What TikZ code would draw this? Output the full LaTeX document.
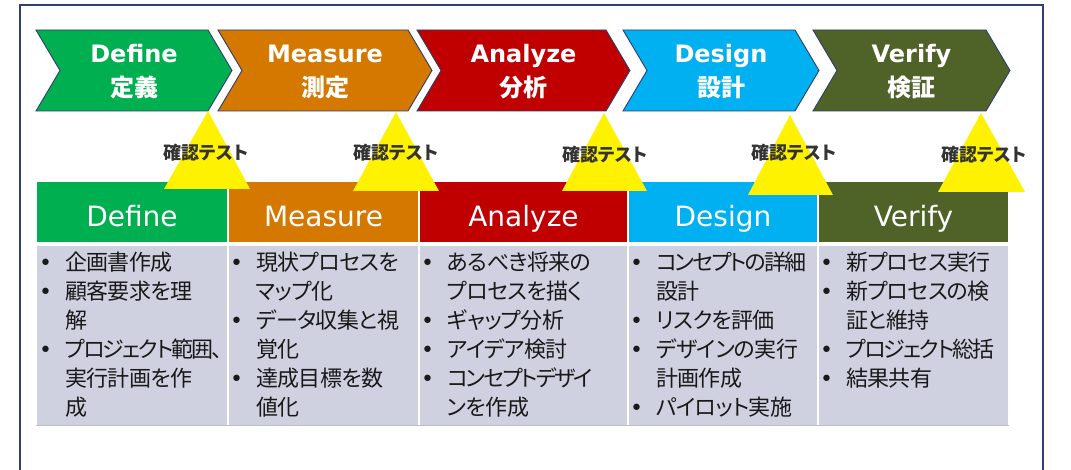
\documentclass[tikz,border=0pt]{standalone}
\usepackage{fontspec}
\setmainfont{DejaVu Sans}
\newfontfamily\jp[RawFeature=+palt]{Noto Sans CJK JP}
\newfontfamily\jpbody[RawFeature=+palt, LetterSpace=-3]{Noto Sans CJK JP}
\newfontfamily\jpnarrow[RawFeature=+palt, LetterSpace=-9]{Noto Sans CJK JP}
\definecolor{cgreen}{HTML}{00B050}
\definecolor{corange}{HTML}{D47800}
\definecolor{cred}{HTML}{C00000}
\definecolor{cblue}{HTML}{00B0F0}
\definecolor{colive}{HTML}{4F6228}
\definecolor{cbody}{HTML}{CFD1E0}
\definecolor{cframe}{HTML}{2F3F6F}
\definecolor{ctext}{HTML}{333333}
\definecolor{cline}{HTML}{2F3E6B}
\newcommand\bl{\makebox[26pt][l]{\rmfamily •}}
\newcommand\ind{\hspace*{26pt}}
\newcommand\nw[1]{{\jpnarrow #1}}
\tikzset{
  chev/.style={draw=cline, line width=0.9pt, line join=miter},
  chevtitle/.style={text=white, inner sep=0pt, anchor=base, font=\fontsize{24}{28}\selectfont\bfseries},
  chevjp/.style={text=white, inner sep=0pt, anchor=base, font=\jp\bfseries\fontsize{24}{28}\selectfont},
  headtxt/.style={text=white, inner sep=0pt, anchor=base, font=\fontsize{28}{32}\selectfont},
  testlbl/.style={text=ctext, inner sep=0pt, font=\jp\bfseries\fontsize{18}{20}\selectfont},
  tri/.style={fill=yellow},
  bodytxt/.style={text=black!90, inner sep=0pt, anchor=base west, align=left, font=\jpbody\fontsize{22}{29}\selectfont},
}
\begin{document}
\begin{tikzpicture}[x=1pt,y=-1pt]
\useasboundingbox (0,0) rectangle (1071,470);
\fill[white] (0,0) rectangle (1071,470);
% frame
\draw[cframe, line width=2pt] (20,471) -- (20,5) -- (1043,5) -- (1043,471);
% chevrons
\foreach \L/\R/\c in {36/208/cgreen, 218/408/corange, 417/606/cred, 623/795/cblue, 813/986/colive}{
  \filldraw[chev, fill=\c] (\L,30) -- (\R,30) -- (\R+24,70.5) -- (\R,111) -- (\L,111) -- (\L+24,70.5) -- cycle;
}
\node[chevtitle] (t1) at (134,63) {Define};
\node[chevjp] (j1) at (134,97) {定義};
\node[chevtitle] (t2) at (325,63) {Measure};
\node[chevjp] (j2) at (325,97) {測定};
\node[chevtitle] (t3) at (523.5,63) {Analyze};
\node[chevjp] (j3) at (523.5,97) {分析};
\node[chevtitle] (t4) at (721,63) {Design};
\node[chevjp] (j4) at (721,97) {設計};
\node[chevtitle] (t5) at (911.5,63) {Verify};
\node[chevjp] (j5) at (911.5,97) {検証};
% table
\foreach \a/\b/\c in {36/228/cgreen, 228/419/corange, 419/628/cred, 628/818/cblue, 818/1009/colive}{
  \fill[\c] (\a+1,182) rectangle (\b-1,242);
  \fill[cbody] (\a+1,246) rectangle (\b-1,425);
}
\draw[black!25] (36,425.5) -- (1009,425.5);
\node[headtxt] (h1) at (132,227) {Define};
\node[headtxt] (h2) at (323.5,227) {Measure};
\node[headtxt] (h3) at (523.5,227) {Analyze};
\node[headtxt] (h4) at (723,227) {Design};
\node[headtxt] (h5) at (913.5,227) {Verify};
% triangles
\fill[tri] (208,111) -- (164,189) -- (250,189) -- cycle;
\fill[tri] (396,112) -- (353,191) -- (439,191) -- cycle;
\fill[tri] (604,113) -- (562,191) -- (647,191) -- cycle;
\fill[tri] (790,115) -- (748,195) -- (833,195) -- cycle;
\fill[tri] (981,113) -- (938,192) -- (1025,192) -- cycle;
\node[testlbl] (k1) at (206,153) {確認テスト};
\node[testlbl] (k2) at (396,153) {確認テスト};
\node[testlbl] (k3) at (605,155) {確認テスト};
\node[testlbl] (k4) at (794,153) {確認テスト};
\node[testlbl] (k5) at (984,155) {確認テスト};
% body text (anchor = baseline of last line)
\node[bodytxt] (b1) at (39,415) {\bl 企画書作成\\ \bl 顧客要求を理\\ \ind 解\\ \bl \nw{プロジェクト範囲、}\\ \ind 実行計画を作\\ \ind 成};
\node[bodytxt] (b2) at (230,415) {\bl 現状プロセスを\\ \ind マップ化\\ \bl データ収集と視\\ \ind 覚化\\ \bl 達成目標を数\\ \ind 値化};
\node[bodytxt] (b3) at (421,415) {\bl あるべき将来の\\ \ind プロセスを描く\\ \bl ギャップ分析\\ \bl アイデア検討\\ \bl \nw{コンセプトデザイ}\\ \ind ンを作成};
\node[bodytxt] (b4) at (630,415) {\bl \nw{コンセプトの詳細}\\ \ind 設計\\ \bl リスクを評価\\ \bl デザインの実行\\ \ind 計画作成\\ \bl パイロット実施};
\node[bodytxt] (b5) at (820,386) {\bl 新プロセス実行\\ \bl 新プロセスの検\\ \ind 証と維持\\ \bl \nw{プロジェクト総括}\\ \bl 結果共有};
\end{tikzpicture}
\end{document}
